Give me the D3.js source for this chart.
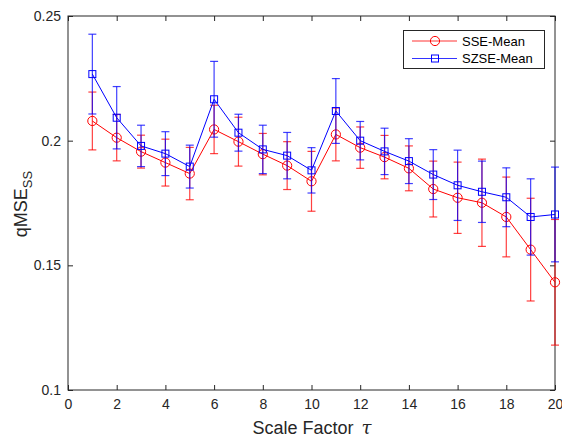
<!DOCTYPE html>
<html>
<head>
<meta charset="utf-8">
<script src="https://cdn.jsdelivr.net/npm/d3@7"></script>
<style>
  body { margin: 0; background: #fff; }
  svg { display: block; font-family: "Liberation Sans", Arial, sans-serif; }
</style>
</head>
<body>
<div id="graph"></div>
<script>
// scale factors
var scales = [1, 2, 3, 4, 5, 6, 7, 8, 9, 10, 11, 12, 13, 14, 15, 16, 17, 18, 19, 20];

// SSE-Mean and its error
var sse_mean = [0.2079, 0.2012, 0.1956, 0.1912, 0.1868, 0.2045, 0.1996, 0.1946, 0.1900, 0.1837,
                0.2025, 0.1972, 0.1934, 0.1889, 0.1806, 0.1771, 0.1751, 0.1694, 0.1563, 0.1432];
var sse_err = [0.0116, 0.0093, 0.0066, 0.0094, 0.0105, 0.0097, 0.0098, 0.0083, 0.0096, 0.0120,
               0.0106, 0.0083, 0.0087, 0.0090, 0.0112, 0.0143, 0.0175, 0.0160, 0.0206, 0.0252];

// SZSE-Mean and its error
var szse_mean = [0.2267, 0.2092, 0.1979, 0.1948, 0.1896, 0.2166, 0.2032, 0.1965, 0.1940, 0.1881,
                 0.2119, 0.2000, 0.1957, 0.1918, 0.1864, 0.1821, 0.1795, 0.1773, 0.1694, 0.1704];
var szse_err = [0.0160, 0.0125, 0.0083, 0.0088, 0.0086, 0.0152, 0.0074, 0.0097, 0.0093, 0.0091,
                0.0130, 0.0077, 0.0093, 0.0090, 0.0100, 0.0141, 0.0123, 0.0118, 0.0153, 0.0190];

var x_ticks = [0, 2, 4, 6, 8, 10, 12, 14, 16, 18, 20];
var y_ticks = [0.1, 0.15, 0.2, 0.25];

var w = 562, h = 438;
var m_left = 68, m_right = 555, m_top = 16, m_bottom = 390;

var svg = d3.select("#graph").append("svg")
    .attr("width", w)
    .attr("height", h);

var x = d3.scaleLinear().domain([0, 20]).range([m_left, m_right]),
    y = d3.scaleLinear().domain([0.1, 0.25]).range([m_bottom, m_top]);

// axes with inside ticks, box style
svg.append("g")
    .attr("transform", "translate(0," + m_bottom + ")")
    .call(d3.axisBottom(x).tickValues(x_ticks).tickSizeInner(-5).tickSizeOuter(0).tickPadding(9))
    .call(function(g) { g.select(".domain").remove(); });
svg.append("g")
    .attr("transform", "translate(0," + m_top + ")")
    .call(d3.axisTop(x).tickValues(x_ticks).tickSizeInner(-5).tickSizeOuter(0).tickFormat(""))
    .call(function(g) { g.select(".domain").remove(); });
svg.append("g")
    .attr("transform", "translate(" + m_left + ",0)")
    .call(d3.axisLeft(y).tickValues(y_ticks).tickSizeInner(-5).tickSizeOuter(0).tickPadding(7)
        .tickFormat(function(d) { return String(+d.toFixed(2)); }))
    .call(function(g) { g.select(".domain").remove(); });
svg.append("g")
    .attr("transform", "translate(" + m_right + ",0)")
    .call(d3.axisRight(y).tickValues(y_ticks).tickSizeInner(-5).tickSizeOuter(0).tickFormat(""))
    .call(function(g) { g.select(".domain").remove(); });

svg.selectAll(".tick line").attr("stroke", "#262626");
svg.selectAll(".tick text")
    .attr("fill", "#262626")
    .style("font-size", "14px")
    .style("font-family", "'Liberation Sans', Arial, sans-serif");

svg.append("rect")
    .attr("x", m_left)
    .attr("y", m_top)
    .attr("width", m_right - m_left)
    .attr("height", m_bottom - m_top)
    .attr("fill", "none")
    .attr("stroke", "#262626")
    .attr("stroke-width", 1);

var series = [
    {name: "SSE-Mean", mean: sse_mean, err: sse_err, color: "#ff0000", marker: "circle"},
    {name: "SZSE-Mean", mean: szse_mean, err: szse_err, color: "#0000ff", marker: "square"}
];

var plot = svg.append("g");

series.forEach(function(s) {
    var g = plot.append("g");
    var pts = scales.map(function(t, i) { return {t: t, m: s.mean[i], e: s.err[i]}; });

    // error bars
    var eb = g.selectAll(".eb").data(pts).enter().append("g")
        .attr("stroke", s.color)
        .attr("stroke-opacity", 0.75)
        .attr("stroke-width", 1.2);
    eb.append("line")
        .attr("x1", function(d) { return x(d.t); })
        .attr("x2", function(d) { return x(d.t); })
        .attr("y1", function(d) { return y(d.m - d.e); })
        .attr("y2", function(d) { return y(d.m + d.e); });
    [-1, 1].forEach(function(sgn) {
        eb.append("line")
            .attr("x1", function(d) { return x(d.t) - 4; })
            .attr("x2", function(d) { return x(d.t) + 4; })
            .attr("y1", function(d) { return y(d.m + sgn * d.e); })
            .attr("y2", function(d) { return y(d.m + sgn * d.e); });
    });

    // mean line
    g.append("path")
        .datum(pts)
        .attr("fill", "none")
        .attr("stroke", s.color)
        .attr("stroke-width", 1)
        .attr("d", d3.line().x(function(d) { return x(d.t); }).y(function(d) { return y(d.m); }));

    // markers
    if (s.marker === "circle") {
        g.selectAll(".mk").data(pts).enter().append("circle")
            .attr("cx", function(d) { return x(d.t); })
            .attr("cy", function(d) { return y(d.m); })
            .attr("r", 4.6)
            .attr("fill", "none")
            .attr("stroke", s.color);
    } else {
        g.selectAll(".mk").data(pts).enter().append("rect")
            .attr("x", function(d) { return x(d.t) - 3.5; })
            .attr("y", function(d) { return y(d.m) - 3.5; })
            .attr("width", 7)
            .attr("height", 7)
            .attr("fill", "none")
            .attr("stroke", s.color);
    }
});

// legend
var legend = svg.append("g");
legend.append("rect")
    .attr("x", 403.5)
    .attr("y", 30.5)
    .attr("width", 141)
    .attr("height", 38)
    .attr("fill", "#fff")
    .attr("stroke", "#262626");

series.forEach(function(s, i) {
    var ly = 41 + i * 17.5;
    legend.append("line")
        .attr("x1", 412).attr("x2", 457)
        .attr("y1", ly).attr("y2", ly)
        .attr("stroke", s.color)
        .attr("stroke-opacity", 0.8);
    if (s.marker === "circle") {
        legend.append("circle")
            .attr("cx", 435).attr("cy", ly).attr("r", 4.6)
            .attr("fill", "none").attr("stroke", s.color);
    } else {
        legend.append("rect")
            .attr("x", 431.5).attr("y", ly - 3.5)
            .attr("width", 7).attr("height", 7)
            .attr("fill", "none").attr("stroke", s.color);
    }
    legend.append("text")
        .attr("x", 462)
        .attr("y", ly + 4.8)
        .style("font-size", "13px")
        .attr("fill", "#000")
        .text(s.name);
});

// axis labels
var xl = svg.append("text")
    .attr("x", 312)
    .attr("y", 434)
    .attr("text-anchor", "middle")
    .style("font-size", "18px")
    .attr("fill", "#262626");
xl.append("tspan").text("Scale Factor");
xl.append("tspan")
    .attr("dx", 8)
    .style("font-family", "'DejaVu Serif', serif")
    .style("font-style", "italic")
    .text("\u03c4");

var yl = svg.append("text")
    .attr("transform", "translate(27,204) rotate(-90)")
    .attr("text-anchor", "middle")
    .style("font-size", "18px")
    .attr("fill", "#262626");
yl.append("tspan").text("qMSE");
yl.append("tspan")
    .attr("dy", 5)
    .style("font-size", "13px")
    .text("SS");
</script>
</body>
</html>
